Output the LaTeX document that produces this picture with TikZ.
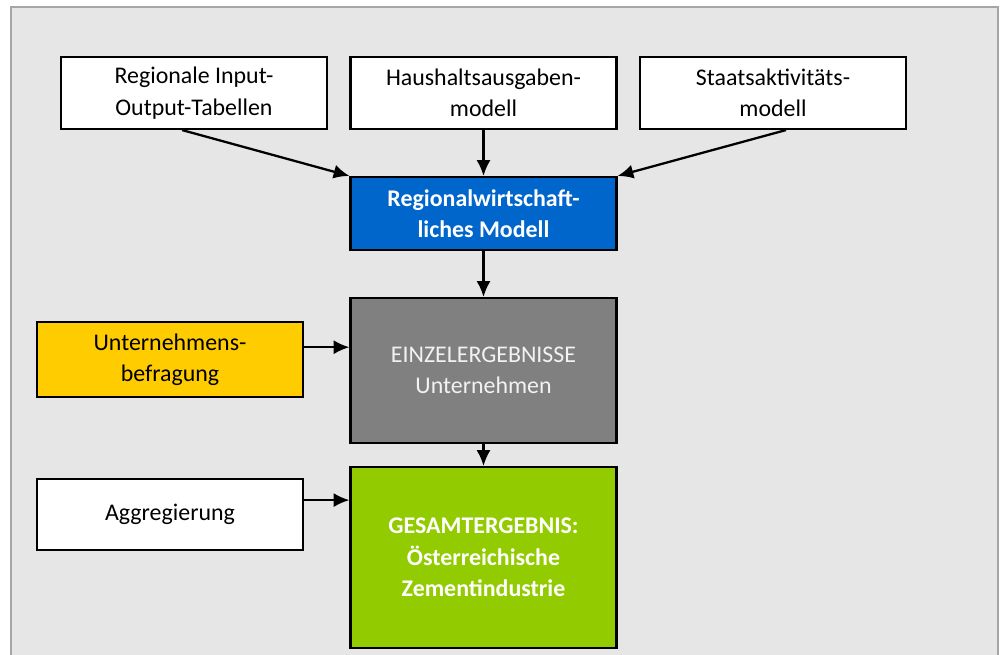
\documentclass[tikz,border=0pt]{standalone}
\usepackage{fontspec}
\setmainfont{Carlito}
\usetikzlibrary{arrows.meta}

\definecolor{bggray}{HTML}{E6E6E6}
\definecolor{framegray}{HTML}{A6A6A6}
\definecolor{regblue}{HTML}{0066CC}
\definecolor{resgray}{HTML}{808080}
\definecolor{survyellow}{HTML}{FFCC00}
\definecolor{totgreen}{HTML}{92CC00}

\begin{document}
\begin{tikzpicture}[x=0.02cm,y=-0.02cm,
  box/.style={draw=black,line width=1.2pt,fill=white,align=center,inner sep=0pt,
    minimum width=5.32cm,font=\fontsize{13.6}{17.8}\selectfont},
  arr/.style={line width=1.3pt,-{Latex[length=9pt,width=8pt]}}]
 \useasboundingbox (0,0) rectangle (1000,654);
 \draw[fill=bggray,draw=framegray,line width=0.8pt](11,7) rectangle (998,670);

 % input models
 \node[box,minimum height=1.44cm] (input) at (194,93) {Regionale Input-\\Output-Tabellen};
 \node[box,minimum height=1.44cm] (haush) at (483.5,93) {Haushaltsausgaben-\\modell};
 \node[box,minimum height=1.44cm] (staat) at (773,93) {Staatsaktivitäts-\\modell};

 \node[box,minimum height=1.46cm,fill=regblue,text=white,font=\fontsize{13.6}{17.8}\selectfont\bfseries]
   (regio) at (483.5,213.5) {Regionalwirtschaft-\\liches Modell};
 \node[box,minimum height=2.9cm,fill=resgray,text=white!95!black]
   (einzel) at (483.5,370.5) {EINZELERGEBNISSE\\Unternehmen};
 \node[box,minimum height=3.62cm,fill=totgreen,text=white,font=\fontsize{13.6}{17.8}\selectfont\bfseries]
   (gesamt) at (483.5,557.5) {GESAMTERGEBNIS:\\Österreichische\\Zementindustrie};

 \node[box,minimum height=1.5cm,fill=survyellow] (befr) at (170,359.5) {Unternehmens-\\befragung};
 \node[box,minimum height=1.42cm] (aggr) at (170,514.5) {Aggregierung};

 \draw[arr]([xshift=-6.8pt]input.south) -- (regio.north west);
 \draw[arr](haush.south) -- (regio.north);
 \draw[arr]([xshift=7.4pt]staat.south) -- (regio.north east);
 \draw[arr](regio.south) -- (einzel.north);
 \draw[arr](einzel.south) -- (gesamt.north);
 \draw[arr]([yshift=7pt]befr.east) -- ([yshift=7pt]befr.east -| einzel.west);
 \draw[arr]([yshift=8.2pt]aggr.east) -- ([yshift=8.2pt]aggr.east -| gesamt.west);
\end{tikzpicture}
\end{document}
